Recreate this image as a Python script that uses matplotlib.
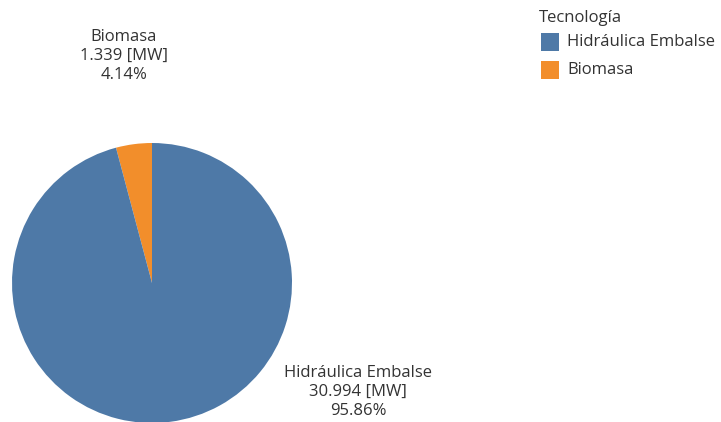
import matplotlib
matplotlib.use("Agg")
import matplotlib.pyplot as plt
from matplotlib.patches import Rectangle

# Installed capacity by technology
tecnologias = ["Biomasa", "Hidráulica Embalse"]
capacidad_mw = [1.339, 30.994]
colores = ["#f28e2b", "#4e79a7"]
legend_order = ["Hidráulica Embalse", "Biomasa"]

W, H = 721, 422
fig = plt.figure(figsize=(W / 100, H / 100), dpi=100)
ax = fig.add_axes([0, 0, 1, 1])

plt.rcParams["font.family"] = ["Open Sans", "DejaVu Sans"]
txt_color = "#333333"
fs = 12

cx, cy, r = 152, H - 283, 140
ax.pie(capacidad_mw, colors=colores, startangle=90, counterclock=True,
       center=(cx, cy), radius=r, frame=True,
       wedgeprops=dict(linewidth=0))
ax.set_xlim(0, W)
ax.set_ylim(0, H)
ax.set_aspect("equal")
ax.axis("off")

total = sum(capacidad_mw)
label_pos = {"Biomasa": (124, H - 56), "Hidráulica Embalse": (358, H - 392)}
for name, val in zip(tecnologias, capacidad_mw):
    pct = val / total * 100
    x, y = label_pos[name]
    ax.text(x, y, f"{name}\n{val:.3f} [MW]\n{pct:.2f}%", ha="center", va="center",
            fontsize=fs, color=txt_color, linespacing=1.28)

# Legend
ax.text(539, H - 18, "Tecnología", ha="left", va="center", fontsize=fs, color=txt_color)
for i, name in enumerate(legend_order):
    col = colores[tecnologias.index(name)]
    yc = H - (42 + i * 28)
    ax.add_patch(Rectangle((541, yc - 9), 18, 18, color=col, lw=0))
    ax.text(567, yc, name, ha="left", va="center", fontsize=fs, color=txt_color)

fig.savefig("out.png", dpi=100, facecolor="white")
